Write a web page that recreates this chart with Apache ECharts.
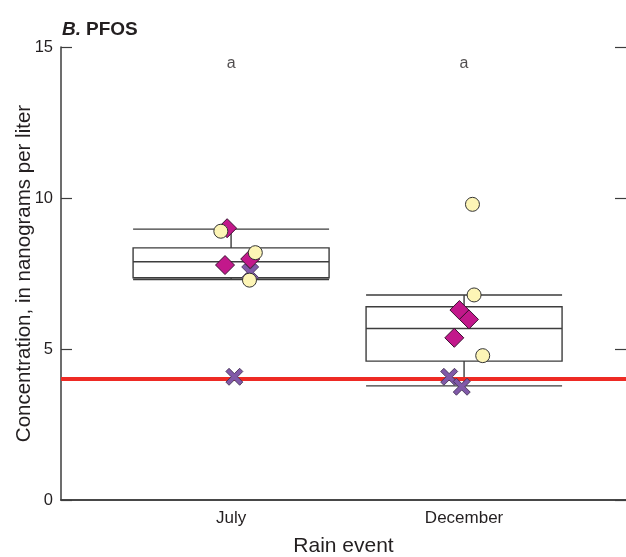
<!DOCTYPE html>
<html>
<head>
<meta charset="utf-8">
<script src="https://cdn.jsdelivr.net/npm/echarts@6/dist/echarts.min.js"></script>
<style>
  html, body { margin: 0; padding: 0; background: #fff; }
  #chart { width: 626px; height: 557px; }
</style>
</head>
<body>
<div id="chart"></div>
<script>
// rain events
var categories = ['July', 'December'];
// whisker box: [low, q1, median, q3, high]
var boxStats = [
  [7.30, 7.36, 7.89, 8.35, 8.97],
  [3.78, 4.60, 5.68, 6.40, 6.79]
];
// sample points per event (value) and horizontal jitter (category units)
var circleValues = [[8.90, 8.19, 7.28], [9.79, 6.79, 4.78]];
var circleJitter = [[-0.044, 0.104, 0.079], [0.036, 0.043, 0.080]];
var diamondValues = [[9.00, 7.78, 7.98], [6.29, 5.98, 5.37]];
var diamondJitter = [[-0.017, -0.026, 0.082], [-0.020, 0.021, -0.042]];
var crossValues = [[7.54, 4.08], [4.08, 3.75]];
var crossJitter = [[0.082, 0.014], [-0.064, -0.010]];
var groupLetters = ['a', 'a'];
var referenceLevel = 4;

var textColor = '#231f20';
var lineColor = '#3d3d3d';
var fontFamily = '"Liberation Sans", Arial, sans-serif';
var crossPath = 'path://M3,0 L8,5 L13,0 L16,3 L11,8 L16,13 L13,16 L8,11 L3,16 L0,13 L5,8 L0,3 Z';

function points(values, jitter) {
  var out = [];
  values.forEach(function (arr, g) {
    arr.forEach(function (v, i) {
      out.push([g + 1 + jitter[g][i], v]);
    });
  });
  return out;
}

var myChart = echarts.init(document.getElementById('chart'));
var xMin = 0.27, xMax = 2.695;
var option = {
  animation: false,
  title: {
    text: '{b|B.} {p|PFOS}',
    left: 57,
    top: 15,
    textStyle: {
      rich: {
        b: { fontFamily: fontFamily, fontSize: 19, fontWeight: 'bold', fontStyle: 'italic', color: textColor },
        p: { fontFamily: fontFamily, fontSize: 19, fontWeight: 'bold', color: textColor }
      }
    }
  },
  grid: { left: 61, right: 0, top: 47, bottom: 57, outerBoundsMode: 'none' },
  xAxis: [{
    type: 'value',
    min: xMin,
    max: xMax,
    name: 'Rain event',
    nameLocation: 'middle',
    nameGap: 36,
    nameMoveOverlap: false,
    nameTextStyle: { fontFamily: fontFamily, fontSize: 21, color: textColor },
    axisLine: { show: true, lineStyle: { color: lineColor, width: 1.5 } },
    axisTick: { show: false },
    splitLine: { show: false },
    axisLabel: {
      customValues: [1, 2],
      margin: 10,
      fontFamily: fontFamily,
      fontSize: 17,
      color: textColor,
      formatter: function (v) { return categories[Math.round(v) - 1] || ''; }
    }
  }, {
    type: 'value',
    position: 'top',
    min: xMin,
    max: xMax,
    axisLine: { show: true, lineStyle: { color: lineColor, width: 1.5 } },
    axisTick: { show: false },
    axisLabel: { show: false },
    splitLine: { show: false }
  }],
  yAxis: [{
    type: 'value',
    min: 0,
    max: 15,
    interval: 5,
    name: 'Concentration, in nanograms per liter',
    nameLocation: 'middle',
    nameGap: 26,
    nameMoveOverlap: false,
    nameTextStyle: { fontFamily: fontFamily, fontSize: 20.5, color: textColor },
    axisLine: { show: true, lineStyle: { color: lineColor, width: 1.5 } },
    axisTick: { show: true, inside: true, length: 11, lineStyle: { color: lineColor, width: 1.2 } },
    splitLine: { show: false },
    axisLabel: { margin: 8, fontFamily: fontFamily, fontSize: 16.5, color: textColor }
  }, {
    type: 'value',
    position: 'right',
    min: 0,
    max: 15,
    interval: 5,
    axisLine: { show: false },
    axisTick: { show: true, inside: true, length: 11, lineStyle: { color: lineColor, width: 1.2 } },
    axisLabel: { show: false },
    splitLine: { show: false }
  }],
  series: [{
    type: 'boxplot',
    boxWidth: [196, 196],
    itemStyle: { color: 'rgba(0,0,0,0)', borderColor: lineColor, borderWidth: 1.4 },
    data: boxStats.map(function (b, i) { return [i + 1].concat(b); }),
    markLine: {
      silent: true,
      symbol: 'none',
      label: { show: false },
      lineStyle: { color: '#ee2a24', width: 4, type: 'solid' },
      data: [{ yAxis: referenceLevel }]
    },
    z: 2
  }, {
    type: 'scatter',
    symbol: crossPath,
    symbolSize: 17,
    itemStyle: { color: '#8059a8', borderColor: '#3a2a4a', borderWidth: 0.8, opacity: 1 },
    data: points(crossValues, crossJitter),
    z: 10
  }, {
    type: 'scatter',
    symbol: 'diamond',
    symbolSize: 19,
    itemStyle: { color: '#c2188b', borderColor: '#3a1030', borderWidth: 1, opacity: 1 },
    data: points(diamondValues, diamondJitter),
    z: 11
  }, {
    type: 'scatter',
    symbol: 'circle',
    symbolSize: 14,
    itemStyle: { color: '#fdf5b6', borderColor: '#333', borderWidth: 1, opacity: 1 },
    data: points(circleValues, circleJitter),
    z: 12
  }, {
    type: 'scatter',
    symbolSize: 0,
    label: {
      show: true,
      position: 'inside',
      formatter: function (p) { return groupLetters[p.dataIndex]; },
      fontFamily: fontFamily,
      fontSize: 16,
      color: textColor
    },
    data: groupLetters.map(function (l, i) { return [i + 1, 14.45]; }),
    z: 12
  }]
};
myChart.setOption(option, true);
window.addEventListener('resize', function () {
  myChart.resize();
});
</script>
</body>
</html>
